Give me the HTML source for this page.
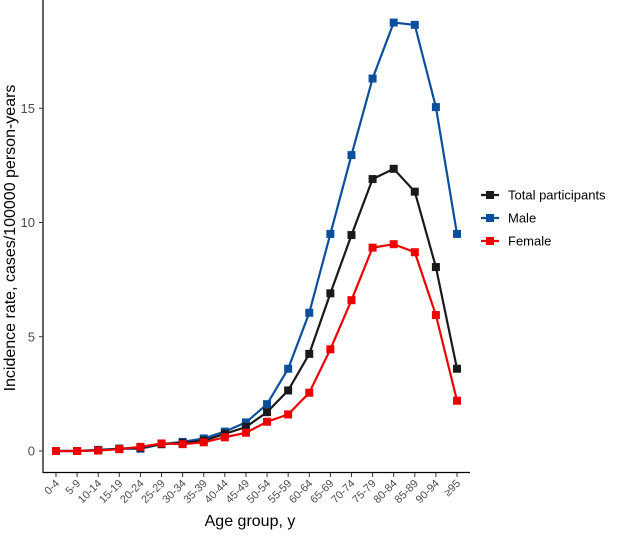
<!DOCTYPE html>
<html><head><meta charset="utf-8"><style>
body{margin:0;background:#fff;}
svg text{font-family:"Liberation Sans",Arial,sans-serif;}
</style></head><body>
<svg id="c" width="630" height="531" xmlns="http://www.w3.org/2000/svg">
<g id="axes"></g><g id="series"></g>
<text x="250" y="526" font-size="16" text-anchor="middle" fill="#000">Age group, y</text>
<text transform="translate(15,238) rotate(-90)" font-size="16" text-anchor="middle" fill="#000">Incidence rate, cases/100000 person-years</text>
<g id="legend"></g>
</svg>
<script>
const categories=["0-4","5-9","10-14","15-19","20-24","25-29","30-34","35-39","40-44","45-49","50-54","55-59","60-64","65-69","70-74","75-79","80-84","85-89","90-94","≥95"];
const totalValues=[0,0,0.03,0.1,0.15,0.3,0.35,0.45,0.75,1.05,1.7,2.65,4.25,6.9,9.45,11.9,12.35,11.35,8.05,3.6];
const maleValues=[0,0,0.05,0.1,0.1,0.3,0.4,0.55,0.85,1.25,2.05,3.6,6.05,9.5,12.95,16.3,18.75,18.65,15.05,9.5];
const femaleValues=[0,0,0.02,0.08,0.18,0.33,0.3,0.38,0.6,0.8,1.28,1.6,2.55,4.45,6.6,8.9,9.05,8.7,5.95,2.2];
const yTicks=[0,5,10,15];
const seriesNames=["Total participants","Male","Female"];
const NS="http://www.w3.org/2000/svg";
function mk(t,a,p){const e=document.createElementNS(NS,t);for(const k in a)e.setAttribute(k,a[k]);p.appendChild(e);return e;}
const xS=i=>56+i*(457-56)/(categories.length-1);
const yS=v=>451-v*22.85;
const ax=document.getElementById('axes');
let l=mk('line',{x1:43,y1:0,x2:43,y2:473,stroke:'#000','stroke-width':1.2},ax);


l=mk('line',{x1:43,y1:472.5,x2:470,y2:472.5,stroke:'#000','stroke-width':1.2},ax);


yTicks.forEach(v=>{
 mk('line',{x1:39,y1:yS(v),x2:43,y2:yS(v),stroke:'#333'},ax);
 const t=mk('text',{x:35,y:yS(v)+4.5,'font-size':13,'text-anchor':'end',fill:'#4d4d4d'},ax);
 t.textContent=v;
 
 
});
categories.forEach((c,i)=>{
 const x=xS(i);
 mk('line',{x1:x,y1:473,x2:x,y2:477,stroke:'#333'},ax);
 const t=mk('text',{x:x+4,y:484,'font-size':11,'text-anchor':'end',fill:'#4d4d4d',transform:`rotate(-45 ${x+4} 484)`},ax);
 t.textContent=c;
 
 
});
const sg=document.getElementById('series');
const cols=["#1a1a1a","#0b4f9c","#ee0000"];
[[maleValues,1,'male'],[totalValues,0,'total'],[femaleValues,2,'female']].forEach(([vals,ci,nm])=>{
 const g=mk('g',{},sg);
 
 
 const p=mk('polyline',{points:vals.map((v,i)=>xS(i)+','+yS(v)).join(' '),fill:'none',stroke:cols[ci],'stroke-width':2.2},g);
 
 
 vals.forEach((v,i)=>{
  const r=mk('rect',{x:xS(i)-4,y:yS(v)-4,width:8,height:8,fill:cols[ci]},g);
  
  
 });
});
const lg=document.getElementById('legend');
seriesNames.forEach((n,i)=>{
 const y=195+i*23;
 const g=mk('g',{},lg);
 
 
 mk('line',{x1:481,y1:y,x2:499,y2:y,stroke:cols[i],'stroke-width':2.2},g);
 mk('rect',{x:486,y:y-4,width:8,height:8,fill:cols[i]},g);
 const t=mk('text',{x:508,y:y+4.5,'font-size':13,fill:'#000'},g);
 t.textContent=n;
});
</script>
</body></html>
